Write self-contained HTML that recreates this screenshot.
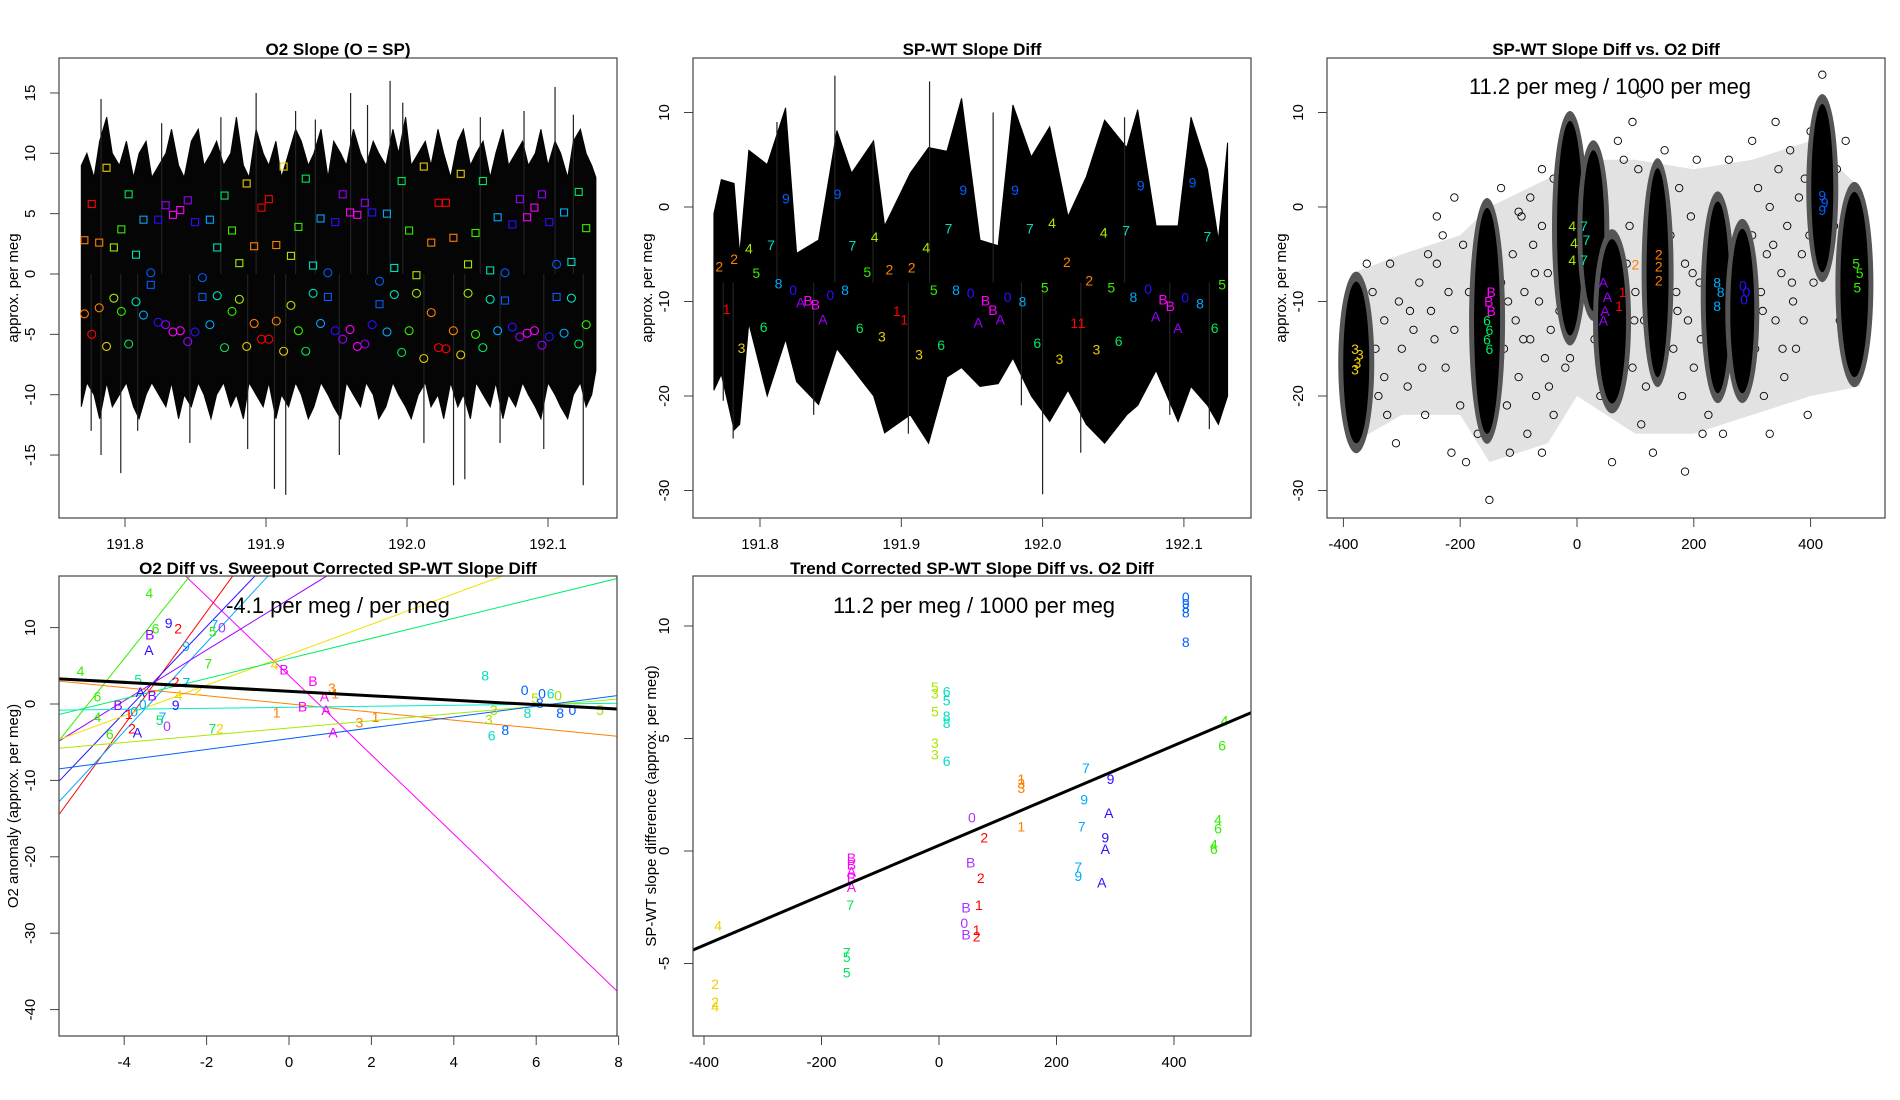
<!DOCTYPE html>
<html><head><meta charset="utf-8"><title>SP-WT slope diagnostics</title>
<style>
html,body{margin:0;padding:0;background:#fff;}
svg{display:block;font-family:"Liberation Sans",Arial,sans-serif;}
.title{font-weight:bold;font-size:17px;}
.tick{font-size:15px;}
.ann{font-size:22px;}
</style></head>
<body>
<svg id="chart" xmlns="http://www.w3.org/2000/svg" width="1900" height="1100" viewBox="0 0 1900 1100">
<rect x="0" y="0" width="1900" height="1100" fill="#fff"/>
<defs>
<clipPath id="c1"><rect x="59" y="58" width="558" height="460"/></clipPath>
<clipPath id="c2"><rect x="693" y="58" width="558" height="460"/></clipPath>
<clipPath id="c3"><rect x="1327" y="58" width="558" height="460"/></clipPath>
<clipPath id="c4"><rect x="59" y="576" width="558" height="460"/></clipPath>
<clipPath id="c5"><rect x="693" y="576" width="558" height="460"/></clipPath>
</defs>
<g id="g1" clip-path="url(#c1)"></g>
<g id="g2" clip-path="url(#c2)"></g>
<g id="g3" clip-path="url(#c3)"></g>
<g id="g4" clip-path="url(#c4)"></g>
<g id="g5" clip-path="url(#c5)"></g>
<g id="axes"></g>
<g fill="none" stroke="#444" stroke-width="1.2">
<rect x="59" y="58" width="558" height="460"/>
<rect x="693" y="58" width="558" height="460"/>
<rect x="1327" y="58" width="558" height="460"/>
<rect x="59" y="576" width="558" height="460"/>
<rect x="693" y="576" width="558" height="460"/>
</g>
<text class="title" x="338" y="55" text-anchor="middle">O2 Slope (O = SP)</text>
<text class="title" x="972" y="55" text-anchor="middle">SP-WT Slope Diff</text>
<text class="title" x="1606" y="55" text-anchor="middle">SP-WT Slope Diff vs. O2 Diff</text>
<text class="title" x="338" y="574" text-anchor="middle">O2 Diff vs. Sweepout Corrected SP-WT Slope Diff</text>
<text class="title" x="972" y="574" text-anchor="middle">Trend Corrected SP-WT Slope Diff vs. O2 Diff</text>
<text class="tick" transform="translate(18,288) rotate(-90)" text-anchor="middle">approx. per meg</text>
<text class="tick" transform="translate(652,288) rotate(-90)" text-anchor="middle">approx. per meg</text>
<text class="tick" transform="translate(1286,288) rotate(-90)" text-anchor="middle">approx. per meg</text>
<text class="tick" transform="translate(18,806) rotate(-90)" text-anchor="middle">O2 anomaly (approx. per meg)</text>
<text class="tick" transform="translate(656,806) rotate(-90)" text-anchor="middle">SP-WT slope difference (approx. per meg)</text>
<text class="ann" x="1610" y="94" text-anchor="middle">11.2 per meg / 1000 per meg</text>
<text class="ann" x="338" y="613" text-anchor="middle">-4.1 per meg / per meg</text>
<text class="ann" x="974" y="613" text-anchor="middle">11.2 per meg / 1000 per meg</text>
</svg>
<script>
// ---------- DATA ----------
const COL = {'1':'#ff0000','2':'#ff7f00','3':'#e8cc00','4':'#a8e800','5':'#33ee00','6':'#00e85a','7':'#00e0b8','8':'#00aaff','9':'#0060ff','0':'#2a10ff','A':'#9a00ff','B':'#ff00ff'};
// Panel 1 envelope
const p1Dates = [191.769,191.773,191.778,191.782,191.787,191.791,191.796,191.801,191.806,191.810,191.815,191.819,191.824,191.829,191.833,191.838,191.842,191.847,191.852,191.856,191.861,191.865,191.870,191.875,191.879,191.884,191.888,191.893,191.898,191.902,191.907,191.911,191.916,191.921,191.925,191.930,191.934,191.939,191.944,191.948,191.953,191.957,191.962,191.967,191.971,191.976,191.980,191.985,191.990,191.994,191.999,192.003,192.008,192.013,192.017,192.022,192.026,192.031,192.036,192.040,192.045,192.049,192.054,192.059,192.063,192.068,192.072,192.077,192.082,192.086,192.091,192.095,192.100,192.105,192.109,192.114,192.118,192.123,192.127,192.131,192.134];
const p1Upper = [9,10,8,11,13,10,9,11,8,10,11,8,9,10,12,9,8,11,12,9,10,11,9,10,13,9,8,12,10,9,11,8,10,12,11,9,10,12,8,11,10,9,12,10,9,11,10,9,12,10,13,9,10,11,9,12,10,8,11,12,9,10,11,8,10,12,9,10,11,9,10,12,9,11,10,8,11,12,10,9,8];
const p1Lower = [-11,-9,-10,-12,-9,-11,-10,-9,-11,-12,-10,-9,-10,-11,-9,-12,-10,-11,-9,-10,-12,-10,-9,-11,-10,-12,-9,-10,-11,-9,-12,-10,-11,-9,-10,-12,-11,-9,-10,-11,-12,-9,-10,-11,-9,-10,-12,-11,-9,-10,-11,-12,-10,-9,-11,-10,-12,-9,-11,-10,-12,-9,-10,-11,-9,-12,-10,-11,-9,-10,-11,-12,-9,-10,-11,-12,-10,-9,-11,-10,-8];
const p1SpikeDates = [191.776,191.783,191.797,191.906,191.914,191.988,192.033,192.041,192.125,192.105,191.783,191.893,191.921,191.960,191.997,191.809,191.826,191.846,191.868,191.887,191.935,191.952,191.972,192.012,192.052,192.066,192.083,192.097,192.118];
const p1SpikeVals = [-13,-15,-16.5,-17.8,-18.3,16,-17.5,-17,-17.5,15.5,14.5,15,13.5,15,14.2,-13,12.5,-14,13,-14.5,12.8,-15,14,-14,13,-14,13.5,-14.5,13.2];
// Shared sampling dates for labelled markers (panels 1, 2)
const mDates = [191.7712,191.7764,191.7817,191.7869,191.7921,191.7974,191.8026,191.8078,191.8131,191.8183,191.8235,191.8288,191.8340,191.8392,191.8445,191.8497,191.8549,191.8602,191.8654,191.8706,191.8759,191.8811,191.8863,191.8916,191.8968,191.9020,191.9073,191.9125,191.9177,191.9230,191.9282,191.9334,191.9387,191.9439,191.9491,191.9544,191.9596,191.9648,191.9701,191.9753,191.9805,191.9858,191.9910,191.9962,192.0015,192.0067,192.0119,192.0172,192.0224,192.0276,192.0329,192.0381,192.0433,192.0486,192.0538,192.0590,192.0643,192.0695,192.0747,192.0800,192.0852,192.0904,192.0957,192.1009,192.1061,192.1114,192.1166,192.1218,192.1271];
const mLabels = ['2','1','2','3','4','5','6','7','8','9','0','A','B','B','A','0','9','8','7','6','5','4','3','2','1','1','2','3','4','5','6','7','8','9','0','A','B','B','A','0','9','8','7','6','5','4','3','2','1','1','2','3','4','5','6','7','8','9','0','A','B','B','A','0','9','8','7','6','5'];
const p1Squares = [2.8,5.8,2.6,8.8,2.2,3.7,6.6,1.6,4.5,-0.9,4.5,5.7,4.9,5.3,6.1,4.3,-1.9,4.5,2.2,6.5,3.6,0.9,7.5,2.3,5.5,6.2,2.4,8.9,1.5,3.9,7.9,0.7,4.6,-1.9,4.3,6.6,5.1,4.9,5.9,5.1,-2.5,5.0,0.5,7.7,3.6,-0.1,8.9,2.6,5.9,5.9,3.0,8.3,0.8,3.4,7.7,0.3,4.7,-2.2,4.1,6.2,4.7,5.5,6.6,4.3,-1.9,5.1,1.0,6.8,3.8];
const p1Circles = [-3.3,-5.0,-2.8,-6.0,-2.0,-3.1,-5.8,-2.3,-3.4,0.1,-4.0,-4.2,-4.8,-4.7,-5.6,-4.8,-0.3,-4.2,-1.8,-6.1,-3.1,-2.1,-6.0,-4.1,-5.4,-5.4,-3.9,-6.4,-2.6,-4.7,-6.4,-1.6,-4.1,0.1,-4.7,-5.4,-4.6,-6.0,-5.8,-4.2,-0.6,-4.8,-1.7,-6.5,-4.7,-1.6,-7.0,-3.2,-6.1,-6.2,-4.7,-6.7,-1.6,-5.0,-6.1,-2.1,-4.7,0.1,-4.4,-5.2,-4.9,-4.7,-5.9,-5.2,0.8,-4.9,-2.0,-5.8,-4.2];
// Panel 2
const p2Dates = [191.7674,191.7726,191.7817,191.7856,191.7921,191.8051,191.8181,191.8259,191.8415,191.8544,191.8648,191.8804,191.8882,191.9064,191.9193,191.9323,191.9427,191.9557,191.9686,191.979,191.992,192.005,192.018,192.0309,192.0439,192.0595,192.0673,192.0803,192.0959,192.105,192.1167,192.1244,192.1309];
const p2Upper = [-0.7,2.9,2.5,-5,6,4.5,10.5,-4.9,-3.5,8.1,3.6,7,-2,3.6,6.3,5.9,11.5,-3.5,-4.1,10.8,5.3,8.5,-1,3.2,9.2,6.3,10.3,-2,-2,9.5,4,-3.5,6.8];
const p2Lower = [-19.4,-17.7,-23.6,-23,-12.3,-20,-14,-18.5,-20.9,-15,-17,-20,-23.9,-22,-25,-18,-17,-19,-18.7,-16,-20,-22.7,-19.4,-23,-25,-22,-21,-17.3,-22.7,-19,-21,-23,-20];
const p2SpikeDates = [191.853,191.920,192.000,191.781,192.027,191.774,192.118,191.812,191.838,191.880,191.905,191.965,191.985,192.058,192.090];
const p2SpikeVals = [13.9,13.3,-30.4,-24.5,-26,-20.5,-23.5,9,-22,7,-24,10,-21,9.5,-22];
const p2Vals = [-6.3,-10.8,-5.5,-14.9,-4.4,-7.0,-12.7,-4.0,-8.1,0.9,-8.8,-10.1,-9.9,-10.3,-11.9,-9.3,1.4,-8.8,-4.1,-12.8,-6.9,-3.2,-13.7,-6.6,-11.0,-11.9,-6.4,-15.6,-4.3,-8.8,-14.6,-2.3,-8.8,1.8,-9.1,-12.2,-9.9,-10.9,-11.9,-9.5,1.8,-10.0,-2.3,-14.4,-8.5,-1.7,-16.1,-5.8,-12.3,-12.3,-7.8,-15.1,-2.7,-8.5,-14.2,-2.5,-9.5,2.3,-8.7,-11.6,-9.8,-10.5,-12.8,-9.6,2.6,-10.2,-3.1,-12.8,-8.2];
// Panel 3 cloud envelope, dense columns, scatter
const p3CloudX = [-385,-300,-200,-150,-50,0,100,200,300,400,485];
const p3CloudUp = [-7,-5,-3,0,3,5,5,4,5,7,2];
const p3CloudLo = [-25,-22,-22,-27,-25,-20,-24,-24,-22,-20,-19];
const p3ColX = [-378,-154,-12,28,60,138,241,283,420,475];
const p3ColTop = [-7.9,-0.1,9.1,6,-3.4,4.1,0.6,-2.3,10.9,1.6];
const p3ColBot = [-25,-24,-13.6,-11,-20.8,-18,-19.7,-19.7,-6.9,-18];
const p3ColW = [13,13,13,11,14,11,12,12,11,14];
const p3SX = [-350,-330,-320,-300,-290,-270,-260,-250,-240,-225,-210,-200,-195,-185,-175,-170,-340,-310,-280,-230,-215,-265,-360,-345,-325,-305,-255,-190,
 -140,-130,-125,-120,-110,-105,-100,-95,-90,-85,-80,-75,-70,-65,-60,-55,-50,-45,-40,-35,-30,-25,-20,-15,-115,-60,-130,-80,-40,-100,
 20,30,35,40,45,90,95,100,105,110,115,120,125,160,165,170,175,180,185,190,195,200,205,210,215,95,110,70,60,150,130,185,
 300,305,310,315,320,325,330,340,345,350,355,360,365,370,375,380,385,390,395,400,405,440,445,450,455,460,300,330,340,260,250,270,225,-150,420,-240,-210,-60,20,80,120,
 -135,-118,-92,-72,-48,-28,-12,85,98,118,172,198,212,318,336,352,368,388,398,412,-360,-330,-286,-244,-220,-170];
const p3SY = [-9,-12,-6,-15,-19,-8,-22,-11,-6,-17,-13,-21,-4,-9,-15,-24,-20,-25,-13,-3,-26,-17,-6,-15,-22,-10,-5,-27,
 -3,-8,-15,-21,-5,-12,-18,-1,-9,-24,-14,-4,-20,-10,-2,-16,-7,-13,-22,-5,-11,-1,-17,-8,-26,-26,2,1,3,-0.5,
 -3,-14,3,-20,-8,-2,-17,-9,4,-23,-12,-5,1,-3,-15,-9,2,-20,-6,-12,-1,-17,5,-8,-24,9,12,7,-27,6,-26,-28,
 -3,-15,2,-9,-20,-5,0,-12,4,-7,-18,-2,6,-10,-15,1,-5,3,-22,8,-8,-2,4,-12,-6,7,7,-24,9,5,-24,-18,-22,-31,14,-1,1,4,-6,5,-2,
 -6,-10,-14,-7,-19,-9,-16,-6,-12,-19,-11,-7,-14,-11,-4,-15,-8,-12,-3,-6,-12,-18,-11,-14,-9,-12];
const p3LX = [-380,-372,-376,-380,-154,-150,-154,-150,-147,-151,-147,-8,-5,-8,12,16,12,45,52,48,45,78,72,100,140,140,140,240,246,240,284,290,286,420,424,420,478,484,480];
const p3LY = [-15,-15.6,-16.5,-17.2,-12,-13,-14,-15,-9,-10,-11,-2,-3.8,-5.6,-2,-3.5,-5.6,-8,-9.5,-11,-12,-9,-10.5,-6.1,-5,-6.3,-7.8,-8,-9,-10.5,-8.3,-9,-9.8,-0.3,0.5,1.2,-6,-7,-8.5];
const p3LL = ['3','3','3','3','6','6','6','6','B','B','B','4','4','4','7','7','7','A','A','A','A','1','1','2','2','2','2','8','8','8','0','0','0','9','9','9','5','5','5'];
const p3LC = ['#f0d000','#f0d000','#f0d000','#f0d000','#00e85a','#00e85a','#00e85a','#00e85a','#ff00ff','#ff00ff','#ff00ff','#a8e800','#a8e800','#a8e800','#00e0b8','#00e0b8','#00e0b8','#9a00ff','#9a00ff','#9a00ff','#9a00ff','#ff0000','#ff0000','#ff7f00','#ff7f00','#ff7f00','#ff7f00','#00aaff','#00aaff','#00aaff','#2a10ff','#2a10ff','#2a10ff','#0060ff','#0060ff','#0060ff','#33ee00','#33ee00','#33ee00'];
// Panel 4 regression lines (endpoints in data coords)
const p4LX1 = [-2.52,-5.6,-5.6,-5.6,-5.6,-5.6,-5.6,-5.6,-5.6,-5.6,-5.6,-5.6];
const p4LY1 = [16.8,-14.6,-10.2,-12.9,-4.9,-4.9,-4.7,-1.4,3.0,-0.8,-5.8,-8.5];
const p4LX2 = [8.1,-1.36,-0.82,-0.5,0.93,-2.4,5.2,8.1,8.1,8.1,8.1,8.1];
const p4LY2 = [-38.3,16.8,16.8,16.8,16.8,16.8,16.8,16.6,-4.3,0.1,0.7,1.2];
const p4LC = ['#ff00ff','#ff0000','#2a10ff','#00aaff','#9a00ff','#33ee00','#f0e000','#00ee66','#ff7f00','#00eecc','#a8e800','#0060ff'];
const p4FitX = [-5.6,8.1];
const p4FitY = [3.3,-0.7];
const p4X = [-3.39,-3.24,-2.92,-2.69,-3.38,-3.40,-2.50,-1.81,-1.85,-1.63,-1.96,-5.06,-4.65,-4.65,-4.35,-3.66,-2.75,-2.49,-2.20,-2.68,-4.15,-3.89,-3.81,-3.68,-3.76,-2.75,-2.96,-3.14,-3.07,-3.61,-3.32,-3.55,-1.86,-1.68,-0.35,-0.12,0.58,0.86,0.33,0.90,1.07,1.04,1.12,1.71,2.10,-0.30,4.76,4.85,4.97,4.92,5.25,5.72,5.79,6.14,6.35,6.53,5.97,6.09,6.58,6.88,7.55];
const p4Y = [14.5,9.9,10.6,9.9,9.1,7.1,7.6,10.4,9.5,10.0,5.3,4.3,1.0,-1.7,-3.9,3.2,2.9,2.8,1.8,1.2,-0.1,-1.3,-3.2,-3.7,-1.0,-0.1,-2.9,-2.1,-1.7,1.6,1.1,0.0,-3.2,-3.2,5.2,4.5,3.0,1.0,-0.3,-0.8,-3.7,2.1,1.4,-2.4,-1.7,-1.1,3.7,-2.0,-0.8,-4.1,-3.4,1.8,-1.2,1.4,1.4,1.1,0.8,0.1,-1.2,-0.8,-0.8];
const p4L = ['4','6','9','2','B','A','9','7','5','0','7','4','6','4','6','5','2','7','2','4','B','1','2','A','0','9','0','5','7','A','B','0','7','2','4','B','B','A','B','A','A','3','1','3','1','1','8','3','3','6','8','0','8','0','6','0','5','8','8','0','5'];
const p4C = ['#33ee00','#33ee00','#2a10ff','#ff0000','#9a00ff','#2a10ff','#00aaff','#00aaff','#33ee00','#aa33ff','#33ee00','#33ee00','#33ee00','#33ee00','#33ee00','#00ee88','#ff0000','#00aaff','#f0d000','#f0d000','#9a00ff','#ff0000','#ff0000','#2a10ff','#00aaff','#2a10ff','#aa33ff','#00e85a','#00aaff','#2a10ff','#9a00ff','#00aaff','#00e85a','#f0d000','#f0d000','#ff00ff','#ff00ff','#ff00ff','#ff00ff','#ff00ff','#ff00ff','#ff7f00','#ff7f00','#ff7f00','#ff7f00','#ff7f00','#00e0c0','#a8dd00','#a8dd00','#00e0c0','#0060ff','#0060ff','#00e0c0','#0060ff','#00e0c0','#a8dd00','#a8dd00','#0060ff','#0060ff','#0060ff','#a8dd00'];
// Panel 5
const p5Slope = 0.0111;
const p5Intercept = 0.25;
const p5X = [420,420,420,420,420,486,482,250,292,247,289,140,140,140,140,56,77,243,475,475,283,283,54,71,237,237,277,468,468,46,68,43,46,64,64,-7,-7,-7,-7,-7,13,13,13,13,13,-157,-157,-157,-151,-149,-149,-149,-149,-149,-376,-381,-381,-381];
const p5Y = [11.3,11.0,10.8,10.6,9.3,5.8,4.7,3.7,3.2,2.3,1.7,3.2,3.0,2.8,1.1,1.5,0.6,1.1,1.4,1.0,0.6,0.1,-0.5,-1.2,-0.7,-1.1,-1.4,0.3,0.1,-2.5,-2.4,-3.2,-3.7,-3.5,-3.8,7.3,7.0,6.2,4.8,4.3,7.1,6.7,6.0,5.7,4.0,-4.5,-4.7,-5.4,-2.4,-0.3,-0.6,-0.9,-1.2,-1.6,-3.3,-5.9,-6.7,-6.9];
const p5L = ['0','9','8','8','8','4','6','7','9','9','A','1','3','3','1','0','2','7','4','6','9','A','B','2','7','9','A','4','6','B','1','0','B','1','2','5','3','5','3','3','6','5','8','8','6','7','5','5','7','B','B','A','B','A','4','2','2','4'];
const p5C = ['#0060ff','#0060ff','#0060ff','#0060ff','#0060ff','#33ee00','#33ee00','#00aaff','#2a10ff','#00aaff','#2a10ff','#ff7f00','#ff7f00','#ff7f00','#ff7f00','#aa33ff','#ff0000','#00aaff','#33ee00','#33ee00','#2a10ff','#2a10ff','#aa33ff','#ff0000','#00aaff','#00aaff','#2a10ff','#33ee00','#33ee00','#aa33ff','#ff0000','#aa33ff','#aa33ff','#ff0000','#ff0000','#a8e800','#a8e800','#a8e800','#a8e800','#a8e800','#00e0c0','#00e0c0','#00e0c0','#00e0c0','#00e0c0','#00e85a','#00e85a','#00e85a','#00e85a','#ff00ff','#ff00ff','#ff00ff','#ff00ff','#ff00ff','#f0d000','#f0d000','#f0d000','#f0d000'];
// Axis ticks
const p1XTicks = [191.8,191.9,192.0,192.1];
const p1XTickLabels = ['191.8','191.9','192.0','192.1'];
const p1YTicks = [-15,-10,-5,0,5,10,15];
const p2YTicks = [-30,-20,-10,0,10];
const p3XTicks = [-400,-200,0,200,400];
const p4XTicks = [-4,-2,0,2,4,6,8];
const p4YTicks = [-40,-30,-20,-10,0,10];
const p5XTicks = [-400,-200,0,200,400];
const p5YTicks = [-5,0,5,10];

// ---------- SCALES ----------
const NS = 'http://www.w3.org/2000/svg';
const x1 = d => 125 + (d - 191.8) * 1410;
const y1 = v => 274 - v * 12.07;
const x2 = d => 760 + (d - 191.8) * 1413;
const y2 = v => 207 - v * 9.45;
const x3 = o => 1577 + o * 0.584;
const y3 = v => 207 - v * 9.45;
const x4 = x => 289 + x * 41.2;
const y4 = y => 704 - y * 7.64;
const x5 = o => 939 + o * 0.5875;
const y5 = v => 851 - v * 22.5;

function mk(tag, attrs, parent) {
  const el = document.createElementNS(NS, tag);
  for (const k in attrs) el.setAttribute(k, attrs[k]);
  parent.appendChild(el);
  return el;
}
const G1 = document.getElementById('g1'), G2 = document.getElementById('g2'), G3 = document.getElementById('g3'), G4 = document.getElementById('g4'), G5 = document.getElementById('g5'), AX = document.getElementById('axes');

// ---------- AXES ----------
function xAxis(ticks, labels, sx, yBase, name) {
  let el = mk('line', {x1: sx(ticks[0]), x2: sx(ticks[ticks.length-1]), y1: yBase, y2: yBase, stroke: '#444'}, AX);
  
  
  ticks.forEach((t, i) => {
    let tk = mk('line', {x1: sx(t), x2: sx(t), y1: yBase, y2: yBase + 9, stroke: '#444'}, AX);
    
    
    let tx = mk('text', {x: sx(t), y: yBase + 31, 'text-anchor': 'middle', class: 'tick'}, AX);
    tx.textContent = labels[i];
    
    
  });
}
function yAxis(ticks, sy, xBase, name) {
  let el = mk('line', {x1: xBase, x2: xBase, y1: sy(ticks[0]), y2: sy(ticks[ticks.length-1]), stroke: '#444'}, AX);
  
  
  ticks.forEach(t => {
    let tk = mk('line', {x1: xBase - 9, x2: xBase, y1: sy(t), y2: sy(t), stroke: '#444'}, AX);
    
    
    let tx = mk('text', {transform: 'translate(' + (xBase - 24) + ',' + sy(t) + ') rotate(-90)', 'text-anchor': 'middle', class: 'tick'}, AX);
    tx.textContent = String(t);
    
    
  });
}
xAxis(p1XTicks, p1XTickLabels, x1, 518, 'panel1');
xAxis(p1XTicks, p1XTickLabels, x2, 518, 'panel2');
xAxis(p3XTicks, p3XTicks.map(String), x3, 518, 'panel3');
xAxis(p4XTicks, p4XTicks.map(String), x4, 1036, 'panel4');
xAxis(p5XTicks, p5XTicks.map(String), x5, 1036, 'panel5');
yAxis(p1YTicks, y1, 59, 'panel1');
yAxis(p2YTicks, y2, 693, 'panel2');
yAxis(p2YTicks, y3, 1327, 'panel3');
yAxis(p4YTicks, y4, 59, 'panel4');
yAxis(p5YTicks, y5, 693, 'panel5');

// ---------- PANEL 1 ----------
function band(dates, up, lo, sx, sy, parent, fill, name) {
  let pts = [];
  dates.forEach((d, i) => pts.push(sx(d).toFixed(1) + ',' + sy(up[i]).toFixed(1)));
  for (let i = dates.length - 1; i >= 0; i--) pts.push(sx(dates[i]).toFixed(1) + ',' + sy(lo[i]).toFixed(1));
  let el = mk('polygon', {points: pts.join(' '), fill: fill, stroke: fill, 'stroke-width': 1, 'stroke-linejoin': 'miter'}, parent);
  
  
}
band(p1Dates, p1Upper, p1Lower, x1, y1, G1, '#050505', 'panel1-series-envelope');
p1SpikeDates.forEach((d, i) => {
  let el = mk('line', {x1: x1(d), x2: x1(d), y1: y1(0), y2: y1(p1SpikeVals[i]), stroke: '#222', 'stroke-width': 1.2}, G1);
  
  
});
mDates.forEach((d, i) => {
  const c = COL[mLabels[i]];
  let sq = mk('rect', {x: x1(d) - 3.5, y: y1(p1Squares[i]) - 3.5, width: 7, height: 7, fill: 'none', stroke: c, 'stroke-width': 1.1}, G1);
  
  
  let ci = mk('circle', {cx: x1(d), cy: y1(p1Circles[i]), r: 4, fill: 'none', stroke: c, 'stroke-width': 1.1}, G1);
  
  
});

// ---------- PANEL 2 ----------
band(p2Dates, p2Upper, p2Lower, x2, y2, G2, '#000', 'panel2-series-envelope');
p2SpikeDates.forEach((d, i) => {
  let el = mk('line', {x1: x2(d), x2: x2(d), y1: y2(-8), y2: y2(p2SpikeVals[i]), stroke: '#222', 'stroke-width': 1.2}, G2);
  
  
});
mDates.forEach((d, i) => {
  let t = mk('text', {x: x2(d), y: y2(p2Vals[i]) + 5, 'text-anchor': 'middle', 'font-size': 14, fill: COL[mLabels[i]]}, G2);
  t.textContent = mLabels[i];
  
  
});

// ---------- PANEL 3 ----------
(function () {
  let pts = [];
  p3CloudX.forEach((o, i) => pts.push(x3(o).toFixed(1) + ',' + y3(p3CloudUp[i]).toFixed(1)));
  for (let i = p3CloudX.length - 1; i >= 0; i--) pts.push(x3(p3CloudX[i]).toFixed(1) + ',' + y3(p3CloudLo[i]).toFixed(1));
  let cl = mk('polygon', {points: pts.join(' '), fill: '#e2e2e2', stroke: 'none'}, G3);
  
  
})();
p3SX.forEach((o, i) => {
  let c = mk('circle', {cx: x3(o), cy: y3(p3SY[i]), r: 3.7, fill: 'none', stroke: '#000', 'stroke-width': 0.9}, G3);
  
  
});
p3ColX.forEach((o, i) => {
  const top = y3(p3ColTop[i]), bot = y3(p3ColBot[i]);
  const cy = (top + bot) / 2, ry = (bot - top) / 2;
  let h = mk('ellipse', {cx: x3(o), cy: cy, rx: p3ColW[i] + 5, ry: ry + 10, fill: '#555', stroke: 'none'}, G3);
  
  
  let r = mk('ellipse', {cx: x3(o), cy: cy, rx: p3ColW[i], ry: ry, fill: '#000', stroke: 'none'}, G3);
  
  
});
p3LX.forEach((o, i) => {
  let t = mk('text', {x: x3(o), y: y3(p3LY[i]) + 5, 'text-anchor': 'middle', 'font-size': 14, fill: p3LC[i]}, G3);
  t.textContent = p3LL[i];
  
  
});

// ---------- PANEL 4 ----------
p4LX1.forEach((v, i) => {
  let l = mk('line', {x1: x4(v), y1: y4(p4LY1[i]), x2: x4(p4LX2[i]), y2: y4(p4LY2[i]), stroke: p4LC[i], 'stroke-width': 1}, G4);
  
  
});
p4X.forEach((v, i) => {
  let t = mk('text', {x: x4(v), y: y4(p4Y[i]) + 5, 'text-anchor': 'middle', 'font-size': 14, fill: p4C[i]}, G4);
  t.textContent = p4L[i];
  
  
});
let fit4 = mk('line', {x1: x4(p4FitX[0]), y1: y4(p4FitY[0]), x2: x4(p4FitX[1]), y2: y4(p4FitY[1]), stroke: '#000', 'stroke-width': 3}, G4);



// ---------- PANEL 5 ----------
p5X.forEach((o, i) => {
  let t = mk('text', {x: x5(o), y: y5(p5Y[i]) + 5, 'text-anchor': 'middle', 'font-size': 14, fill: p5C[i]}, G5);
  t.textContent = p5L[i];
  
  
});
let fit5 = mk('line', {x1: x5(-460), y1: y5(p5Intercept + p5Slope * -460), x2: x5(560), y2: y5(p5Intercept + p5Slope * 560), stroke: '#000', 'stroke-width': 3}, G5);


</script>
</body></html>
